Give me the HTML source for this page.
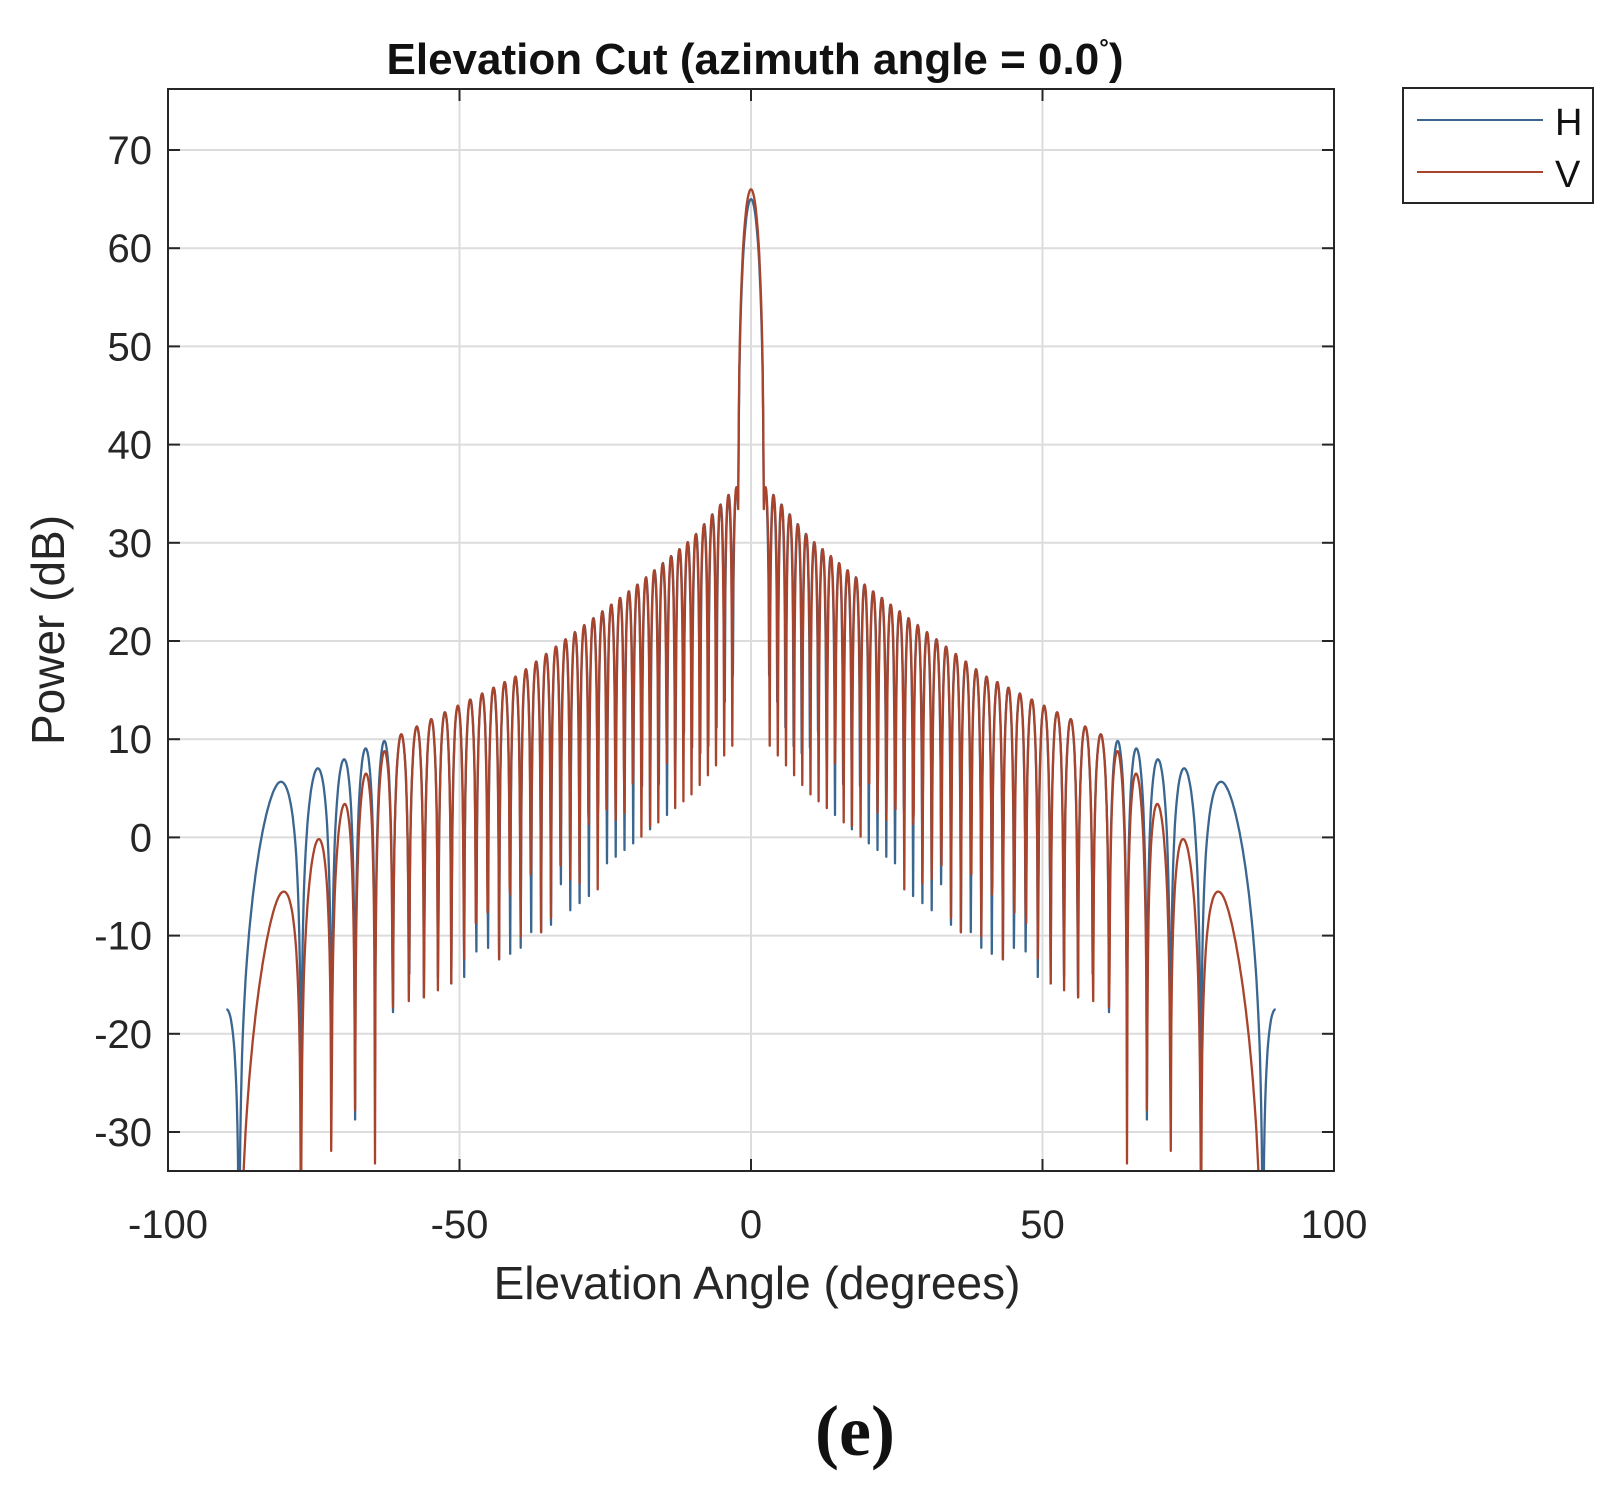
<!DOCTYPE html>
<html><head><meta charset="utf-8"><style>
body{margin:0;background:#fff;}
svg{display:block;}
</style></head><body>
<svg id="s" width="1624" height="1502" xmlns="http://www.w3.org/2000/svg" font-family="Liberation Sans, sans-serif">
<defs><clipPath id="c"><rect x="168" y="89" width="1166" height="1082"/></clipPath></defs>
<rect width="1624" height="1502" fill="#fff"/>
<g id="grid" stroke="#dcdcdc" stroke-width="2"></g>
<g id="data" clip-path="url(#c)" fill="none" stroke-width="2.3" stroke-linejoin="round"></g>
<rect x="168" y="89" width="1166" height="1082" fill="none" stroke="#262626" stroke-width="2"/>
<g id="ticks" stroke="#262626" stroke-width="2"></g>
<g id="labels" font-size="40" fill="#262626"></g>
<text x="755" y="74" text-anchor="middle" font-size="44" font-weight="bold" fill="#111">Elevation Cut (azimuth angle = 0.0<tspan font-size="24" dy="-18">°</tspan><tspan dy="18">)</tspan></text>
<text x="757" y="1299" text-anchor="middle" font-size="46" fill="#262626">Elevation Angle (degrees)</text>
<text transform="translate(64,630) rotate(-90)" text-anchor="middle" font-size="46" fill="#262626">Power (dB)</text>
<rect x="1403" y="88" width="190" height="115" fill="#fff" stroke="#262626" stroke-width="2"/>
<line x1="1417" y1="120" x2="1543" y2="120" stroke="#3a668f" stroke-width="2"/>
<line x1="1417" y1="172" x2="1543" y2="172" stroke="#a8432c" stroke-width="2"/>
<text x="1555" y="135" font-size="38" fill="#111">H</text>
<text x="1555" y="187" font-size="38" fill="#111">V</text>
<text x="855" y="1455" text-anchor="middle" font-size="72" font-weight="bold" font-family="Liberation Serif, serif" fill="#111">(e)</text>
</svg>
<script>
const NS="http://www.w3.org/2000/svg";
const X=a=>168+(a+100)*1166/200, Y=v=>150+(70-v)*9.82;
const g=document.getElementById('grid'),t=document.getElementById('ticks'),L=document.getElementById('labels'),D=document.getElementById('data');
function el(p,n,at,txt){const e=document.createElementNS(NS,n);for(const k in at)e.setAttribute(k,at[k]);if(txt!==undefined)e.textContent=txt;p.appendChild(e);return e;}
for(let a=-50;a<=50;a+=50){el(g,'line',{x1:X(a),x2:X(a),y1:89,y2:1171});}
for(let v=-30;v<=70;v+=10){el(g,'line',{x1:168,x2:1334,y1:Y(v),y2:Y(v)});
 el(t,'line',{x1:168,x2:180,y1:Y(v),y2:Y(v)});el(t,'line',{x1:1322,x2:1334,y1:Y(v),y2:Y(v)});
 el(L,'text',{x:152,y:Y(v)+14,'text-anchor':'end'},String(v));}
for(let a=-100;a<=100;a+=50){el(t,'line',{x1:X(a),x2:X(a),y1:1159,y2:1171});el(t,'line',{x1:X(a),x2:X(a),y1:89,y2:101});
 el(L,'text',{x:X(a),y:1238,'text-anchor':'middle'},String(a));}
const env=[[0,36.5],[3,35.5],[10,30.5],[20,25.5],[30,21],[40,16.5],[50,13.5],[60,10.5],[66,9.1],[70,7.9],[75,6.9],[81,5.6],[86,4],[90,3]];
function E(a){a=Math.abs(a);for(let i=1;i<env.length;i++){if(a<=env[i][0]){const[p,q]=[env[i-1],env[i]];return p[1]+(q[1]-p[1])*(a-p[0])/(q[0]-p[0]);}}return 3;}
function pat(a,M,ph,peak,isV){
 const r=a*Math.PI/180,u=Math.abs(Math.sin(r));
 let main=-999;
 if(Math.abs(a)<2.25){const tt=a/2.25;const sc=Math.abs(tt)<1e-9?1:Math.sin(Math.PI*tt)/(Math.PI*tt);
  main=peak+20*Math.log10(Math.max(Math.abs(sc),1e-5));}
 const aa=Math.abs(a);
 const fl=aa>62?1e-4:(aa<25?0.05:0.04);
 let side=E(a)+20*Math.log10(Math.max(Math.abs(Math.cos(Math.PI*(M*u+ph))),fl));
 if(isV){if(aa>60){side-=11.6*Math.pow((aa-60)/21,1.22);}}
 return Math.max(main,side);}
function path(M,ph,peak,isV,col){let d='';let first=true;
 for(let i=0;i<=1800;i++){const a=-90+i*0.1;let v=pat(a,M,ph,peak,isV);if(v<-40)v=-40;d+=(first?'M':'L')+X(a).toFixed(1)+' '+Y(v).toFixed(1);first=false;}
 el(D,'path',{d:d,stroke:col});}
path(41.3,0.23,65,false,'#3a668f');
path(41.34,0.19,66,true,'#a8432c');
</script>
</body></html>
